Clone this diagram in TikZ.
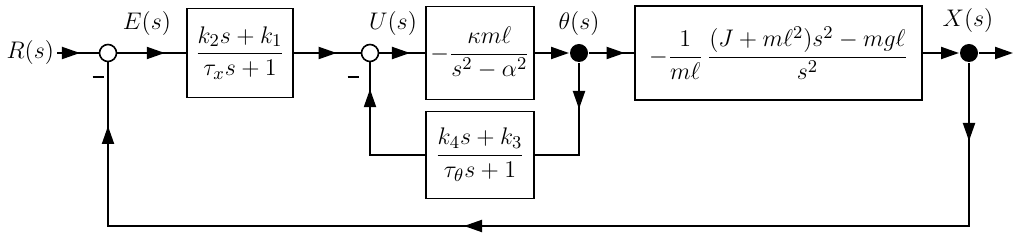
\documentclass[tikz,border=0pt]{standalone}
\usepackage{amsmath}
\usetikzlibrary{arrows.meta,decorations.markings}

\begin{document}
\begin{tikzpicture}[
  x=0.5pt, y=-0.5pt,
  line width=1pt,
  font=\fontsize{12.5}{15}\selectfont,
  block/.style={draw,line width=0.9pt,inner sep=2pt,align=center},
  sumpt/.style={draw,circle,fill=white,line width=0.8pt,minimum size=8.5pt,inner sep=0pt},
  dotpt/.style={circle,fill,minimum size=9pt,inner sep=0pt},
  lbl/.style={inner sep=1pt},
  neg/.style={inner sep=0pt},
  arr/.style={-{Triangle[length=9pt,width=6pt]}},
  tip/.style={postaction={decorate,decoration={markings,
      mark=at position #1 with {\arrow{Triangle[length=9pt,width=6pt]}}}}}
]
\useasboundingbox (0,0) rectangle (1017,234);

% summing points and pick-off points
\node[sumpt] (sum1) at (108,53) {};
\node[sumpt] (sum2) at (370,53) {};
\node[dotpt] (thdot) at (579,53) {};
\node[dotpt] (xdot) at (969,53) {};

% blocks
\node[block, minimum width=53pt, minimum height=44.5pt] (ctrlx) at (240,53)
  {$\dfrac{k_2s+k_1}{\tau_x s+1}$};
\node[block, minimum width=54pt, minimum height=46.5pt] (plantth) at (480,53)
  {$-\dfrac{\kappa m\ell}{s^2-\alpha^2}$};
\node[block, minimum width=143.5pt, minimum height=47pt] (plantx) at (778.5,53)
  {$-\dfrac{1}{m\ell}\,\dfrac{(J+m\ell^2)s^2-mg\ell}{s^2}$};
\node[block, minimum width=54pt, minimum height=43.5pt] (ctrlth) at (480,155)
  {$\dfrac{k_4s+k_3}{\tau_\theta s+1}$};

% signals
\node[lbl, anchor=east] (r) at (57,53) {$R(s)$};
\node[lbl] (e) at (147,24) {$E(s)$};
\node[lbl] (u) at (393,24) {$U(s)$};
\node[lbl] (th) at (579,24) {$\theta(s)$};
\node[lbl] (x) at (968,21) {$X(s)$};
\node[neg] (m1) at (98,77) {\rule{5.5pt}{1.3pt}};
\node[neg] (m2) at (353,77) {\rule{5.5pt}{1.3pt}};

\coordinate (out) at (1013,53);
\coordinate (fbr) at (969,226);
\coordinate (fbl) at (108,226);

\draw[tip=0.55] (r) -- (sum1);
\draw[tip=0.69] (sum1) -- (ctrlx);
\draw[tip=0.64] (ctrlx) -- (sum2);
\draw[tip=0.67] (sum2) -- (plantth);
\draw[arr] (plantth) -- (thdot);
\draw[tip=0.79] (thdot) -- (plantx);
\draw[arr] (plantx) -- (xdot);
\draw[arr] (xdot) -- (out);

% inner loop
\draw[tip=23pt] (thdot) |- (ctrlth);
\draw[tip=60.5pt] (ctrlth) -| (sum2);

% outer loop
\draw[tip=39pt, tip=334pt, tip=562pt] (xdot) -- (fbr) -- (fbl) -- (sum1);
\end{tikzpicture}
\end{document}
